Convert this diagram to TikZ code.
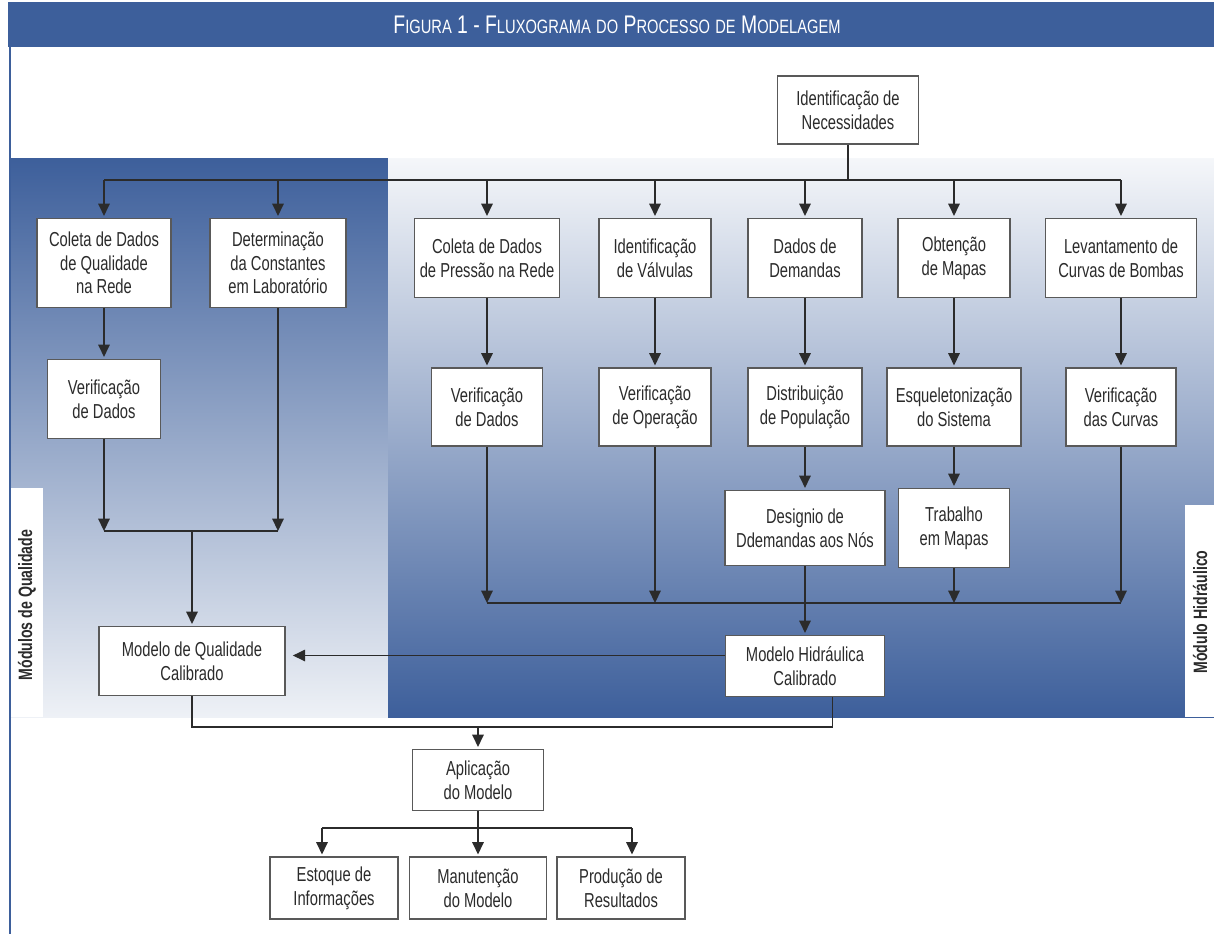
\documentclass[tikz,border=0pt]{standalone}
\usepackage{fontspec}
\setmainfont[FakeStretch=0.73]{Liberation Sans}
\newfontfamily\titlefont[FakeStretch=0.76]{Liberation Sans}
\usepackage{xcolor}
\definecolor{vizBlue}{HTML}{3D5F9B}
\definecolor{vizPale}{HTML}{EEF1F6}
\definecolor{vizMid}{HTML}{8FA3C7}
\definecolor{vizInk}{HTML}{2B2B2B}
\usetikzlibrary{arrows.meta}
\tikzset{
  vizBox/.style={draw=black!65, line width=0.9pt, fill=white, align=center,
    inner sep=0pt, text=vizInk, font=\fontsize{11.5}{13.5}\selectfont},
  vizLine/.style={draw=vizInk, line width=0.9pt},
  vizArrow/.style={vizLine, -{Triangle[width=6.5pt,length=7pt]}, shorten >=1pt},
  vizSide/.style={rotate=90, text=vizInk, font=\bfseries\fontsize{11}{13}\selectfont},
}
\newcommand\scpart[1]{{\fontsize{11}{12}\selectfont #1}}

\begin{document}
\begin{tikzpicture}[x=0.02cm, y=-0.02cm]
  \useasboundingbox (0,0) rectangle (1214,934);
  % title bar and frame
  \fill[vizBlue] (8,2) rectangle (1214,47);
  \node[text=white, font=\titlefont\fontsize{14.5}{15}\selectfont] (title) at (617,25)
    {F\scpart{IGURA} 1 - F\scpart{LUXOGRAMA} \scpart{DO} P\scpart{ROCESSO} \scpart{DE} M\scpart{ODELAGEM}};
  \draw[vizBlue, line width=1.6pt] (10,47) -- (10,934);
  % panels
  \shade[top color=vizBlue, bottom color=vizPale] (11,158) rectangle (388,717);
  \fill[white] (11,488) rectangle (43,717);
  \shade[top color=vizPale!60!white, middle color=vizMid, bottom color=vizBlue] (388,158) rectangle (1214,717);
  \fill[white] (1185,505) rectangle (1214,717);
  \node[vizSide] (labQ) at (27,605) {Módulos de Qualidade};
  \node[vizSide] (labH) at (1200,612) {Módulo Hidráulico};

  % boxes
  \node[vizBox, minimum width=2.82cm, minimum height=1.36cm] (nec) at (848,110) {Identificação de\\Necessidades};
  \node[vizBox, minimum width=2.68cm, minimum height=1.78cm] (colQ) at (104,263) {Coleta de Dados\\de Qualidade\\na Rede};
  \node[vizBox, minimum width=2.72cm, minimum height=1.78cm] (detC) at (278,263) {Determinação\\da Constantes\\em Laboratório};
  \node[vizBox, minimum width=2.9cm, minimum height=1.58cm] (colP) at (487,258) {Coleta de Dados\\de Pressão na Rede};
  \node[vizBox, minimum width=2.24cm, minimum height=1.58cm] (idV) at (655,258) {Identificação\\de Válvulas};
  \node[vizBox, minimum width=2.28cm, minimum height=1.58cm] (dadD) at (805,258) {Dados de\\Demandas};
  \node[vizBox, minimum width=2.24cm, minimum height=1.58cm] (obtM) at (954,258) {Obtenção\\de Mapas};
  \node[vizBox, minimum width=3.02cm, minimum height=1.58cm] (levC) at (1121,258) {Levantamento de\\Curvas de Bombas};

  \node[vizBox, minimum width=2.26cm, minimum height=1.58cm] (verQ) at (104,399) {Verificação\\de Dados};
  \node[vizBox, minimum width=2.22cm, minimum height=1.56cm] (verP) at (487,407) {Verificação\\de Dados};
  \node[vizBox, minimum width=2.24cm, minimum height=1.56cm] (verO) at (655,407) {Verificação\\de Operação};
  \node[vizBox, minimum width=2.28cm, minimum height=1.56cm] (disP) at (805,407) {Distribuição\\de População};
  \node[vizBox, minimum width=2.68cm, minimum height=1.56cm] (esqS) at (954,407) {Esqueletonização\\do Sistema};
  \node[vizBox, minimum width=2.2cm, minimum height=1.56cm] (verC) at (1121,407) {Verificação\\das Curvas};

  \node[vizBox, minimum width=3.2cm, minimum height=1.5cm] (desD) at (805,528) {Designio de\\Ddemandas aos Nós};
  \node[vizBox, minimum width=2.22cm, minimum height=1.58cm] (traM) at (954,528) {Trabalho\\em Mapas};

  \node[vizBox, minimum width=3.72cm, minimum height=1.38cm] (modQ) at (192,661) {Modelo de Qualidade\\Calibrado};
  \node[vizBox, minimum width=3.18cm, minimum height=1.22cm] (modH) at (805,666) {Modelo Hidráulica\\Calibrado};

  \node[vizBox, minimum width=2.62cm, minimum height=1.22cm] (aplM) at (478,780) {Aplicação\\do Modelo};
  \node[vizBox, minimum width=2.56cm, minimum height=1.24cm] (estI) at (334,888) {Estoque de\\Informações};
  \node[vizBox, minimum width=2.74cm, minimum height=1.24cm] (manM) at (478,888) {Manutenção\\do Modelo};
  \node[vizBox, minimum width=2.56cm, minimum height=1.24cm] (proR) at (621,888) {Produção de\\Resultados};

  % top distribution
  \coordinate (topBus) at (848,180);
  \draw[vizLine] (nec.south) -- (topBus);
  \draw[vizLine] (colQ.north |- topBus) -- (levC.north |- topBus);
  \foreach \n in {colQ,detC,colP,idV,dadD,obtM,levC}
    \draw[vizArrow] (\n.north |- topBus) -- (\n.north);

  % column arrows
  \foreach \a/\b in {colQ/verQ,colP/verP,idV/verO,dadD/disP,obtM/esqS,levC/verC,disP/desD,esqS/traM}
    \draw[vizArrow] (\a.south) -- (\a.south |- \b.north);

  % quality branch
  \coordinate (qBus) at (192,531);
  \draw[vizArrow, shorten >=0pt] (verQ.south) -- (verQ.south |- qBus);
  \draw[vizArrow, shorten >=0pt] (detC.south) -- (detC.south |- qBus);
  \draw[vizLine] (verQ.south |- qBus) -- (detC.south |- qBus);
  \draw[vizArrow] (qBus) -- (modQ.north);

  % hydraulic branch
  \coordinate (hBus) at (805,603);
  \foreach \n in {verP,verO,traM,verC}
    \draw[vizArrow, shorten >=0pt] (\n.south) -- (\n.south |- hBus);
  \draw[vizLine] (verP.south |- hBus) -- (verC.south |- hBus);
  \draw[vizArrow] (desD.south) -- (modH.north);

  \coordinate (hLink) at ([yshift=0.21cm]modH.west);
  \draw[vizArrow, shorten >=4pt] (hLink) -- (hLink -| modQ.east);

  % application
  \coordinate (aBus) at (478,727);
  \coordinate (hOut) at ([xshift=0.55cm]modH.south);
  \draw[vizLine] (modQ.south) |- (hOut |- aBus) -- (hOut);
  \draw[vizArrow] (aBus) -- (aplM.north);

  \coordinate (oBus) at (478,828);
  \coordinate (oL) at ([xshift=-0.24cm]estI.north);
  \coordinate (oR) at ([xshift=0.22cm]proR.north);
  \draw[vizLine] (aplM.south) -- (oBus);
  \draw[vizLine] (oBus -| oL) -- (oBus -| oR);
  \draw[vizArrow] (oBus -| oL) -- (oL);
  \draw[vizArrow] (oBus) -- (manM.north);
  \draw[vizArrow] (oBus -| oR) -- (oR);
\end{tikzpicture}
\end{document}
